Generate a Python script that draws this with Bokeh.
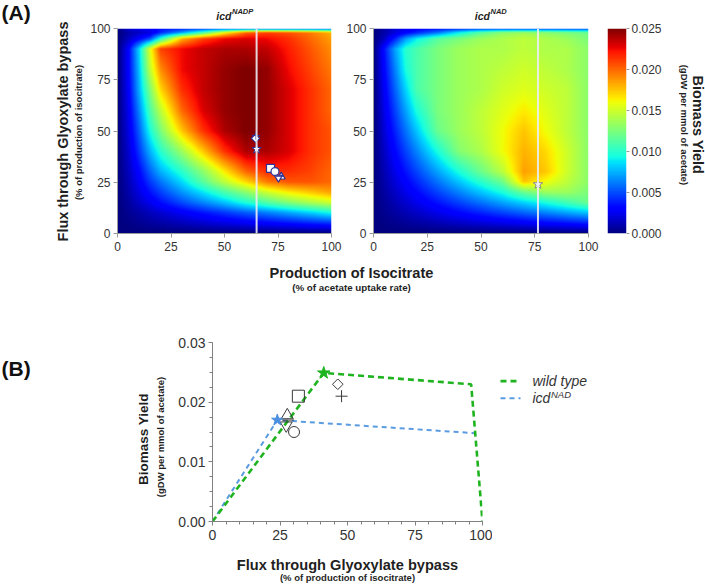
import numpy as np
from bokeh.plotting import figure
from bokeh.models import (Range1d, LinearColorMapper, Label, Span,
                          FixedTicker, NumeralTickFormatter, ColumnDataSource)
from bokeh.layouts import row, column
from bokeh.embed import file_html
from bokeh.resources import INLINE

FONT = "Liberation Sans"
TXT = "#1f1f1f"

# ---------------- data ----------------
grid_isocitrate = [0, 5, 10, 15, 20, 30, 40, 50, 60, 70, 80, 90, 100]
grid_glyoxylate = [0, 5, 10, 15, 20, 25, 30, 40, 50, 60, 70, 80, 90, 95, 98, 100]

# biomass yield in 1e-3 gDW per mmol of acetate; one row per grid_glyoxylate value
yield_nadp_milli = [
    [0, 0.0, 0.0, 0.0, 0.0, 0.0, 0.0, 0.0, 0.0, 0.0, 0.0, 0.0, 0.0],
    [0, 0.2, 0.45, 0.7, 0.9, 1.35, 1.8, 2.25, 2.7, 3.15, 3.6, 4.05, 4.5],
    [0, 0.45, 0.9, 1.35, 1.8, 2.7, 3.6, 4.5, 5.4, 6.3, 7.3, 8.3, 9.5],
    [0, 0.7, 1.6, 2.5, 3.4, 5.0, 6.5, 8.0, 9.8, 11.3, 12.8, 14.0, 15.0],
    [0, 1.0, 2.2, 3.5, 4.7, 6.8, 8.8, 11.0, 13.0, 15.0, 16.5, 17.5, 18.5],
    [0, 1.2, 2.7, 4.5, 6.0, 8.5, 11.5, 14.5, 17.0, 19.5, 20.5, 20.5, 20.0],
    [0, 1.4, 3.2, 5.5, 7.5, 10.0, 13.0, 16.5, 20.0, 21.5, 21.5, 21.0, 20.0],
    [0, 1.8, 4.5, 7.5, 10.0, 13.5, 17.5, 21.5, 24.0, 24.0, 23.0, 21.5, 20.5],
    [0, 2.2, 5.5, 9.5, 12.5, 17.5, 21.5, 24.0, 25.0, 24.5, 23.0, 21.5, 20.5],
    [0, 2.5, 6.5, 11.0, 14.5, 20.0, 23.0, 24.5, 25.0, 24.5, 23.0, 21.5, 20.0],
    [0, 2.8, 7.5, 12.5, 17.0, 21.5, 23.5, 24.5, 25.0, 24.5, 23.0, 21.5, 20.0],
    [0, 3.0, 8.0, 14.5, 19.0, 22.5, 23.5, 24.5, 25.0, 24.5, 22.5, 21.0, 19.5],
    [0, 3.0, 8.5, 15.5, 21.0, 22.5, 23.5, 24.0, 24.0, 23.5, 22.0, 20.5, 19.0],
    [0, 1.5, 3.0, 5.0, 10.0, 18.0, 21.0, 22.5, 23.0, 22.5, 21.5, 20.0, 18.5],
    [0, 1.0, 1.5, 2.0, 4.0, 7.0, 11.0, 16.0, 20.0, 21.0, 20.5, 19.5, 18.0],
    [0, 2.0, 2.5, 3.0, 3.5, 4.0, 4.5, 5.0, 5.0, 5.0, 5.0, 5.0, 5.0],
]
yield_nad_milli = [
    [0, 0.0, 0.0, 0.0, 0.0, 0.0, 0.0, 0.0, 0.0, 0.0, 0.0, 0.0, 0.0],
    [0, 0.2, 0.4, 0.6, 0.8, 1.2, 1.6, 2.0, 2.4, 2.8, 3.2, 3.6, 4.0],
    [0, 0.4, 0.8, 1.2, 1.6, 2.4, 3.2, 4.0, 4.8, 5.6, 6.4, 7.2, 8.0],
    [0, 0.6, 1.2, 1.8, 2.4, 3.6, 4.8, 6.0, 7.2, 8.4, 9.6, 10.8, 12.0],
    [0, 0.8, 1.6, 2.4, 3.2, 4.8, 6.4, 8.0, 9.6, 12.0, 13.5, 13.5, 12.5],
    [0, 1.0, 2.0, 3.0, 4.0, 6.0, 8.0, 10.0, 12.0, 17.5, 16.0, 14.5, 13.0],
    [0, 1.2, 2.4, 3.6, 4.8, 7.2, 9.6, 12.0, 14.4, 18.5, 17.5, 15.0, 13.0],
    [0, 1.6, 3.2, 4.8, 6.4, 9.6, 12.8, 14.0, 16.0, 18.0, 17.0, 15.0, 13.0],
    [0, 2.0, 4.0, 6.0, 8.0, 12.0, 13.5, 14.5, 16.0, 17.5, 16.0, 14.5, 13.0],
    [0, 2.4, 4.8, 7.2, 9.6, 12.5, 13.5, 14.5, 15.5, 16.5, 15.5, 14.5, 13.0],
    [0, 2.8, 5.6, 8.4, 11.0, 12.5, 13.5, 14.0, 15.0, 15.5, 15.0, 14.5, 13.0],
    [0, 3.2, 6.4, 9.6, 11.0, 12.5, 13.5, 14.0, 14.5, 15.0, 14.5, 14.0, 13.0],
    [0, 3.6, 7.2, 10.0, 11.0, 12.5, 13.5, 14.0, 14.0, 14.5, 14.0, 14.0, 13.0],
    [0, 1.5, 4.0, 7.0, 9.0, 11.5, 12.5, 13.5, 14.0, 14.5, 14.0, 13.5, 12.5],
    [0, 1.0, 2.0, 3.0, 4.0, 6.0, 9.0, 11.5, 13.0, 13.5, 13.0, 12.5, 12.0],
    [0, 1.0, 2.0, 2.5, 3.0, 3.5, 4.0, 4.5, 4.5, 4.5, 4.5, 4.5, 4.5],
]

# optimal operating points (stars)
wt_opt_isocitrate = 65.0
wt_opt_glyoxylate = 41.2
wt_opt_yield = 0.0249
nad_opt_isocitrate = 76.5
nad_opt_glyoxylate = 24.0
nad_opt_yield = 0.0170

# measured strains (open symbols)
strain_marker = ["diamond", "cross", "square", "circle", "triangle", "inverted_triangle", "dash"]
strain_isocitrate = [64.5, 64.7, 71.5, 73.6, 76.5, 75.2, 75.8]
strain_glyoxylate = [46.4, 47.8, 31.8, 30.2, 27.7, 27.3, 28.0]
strain_yield = [0.0230, 0.0210, 0.0210, 0.0150, 0.0178, 0.0161, 0.0170]

# panel B curves
wt_curve_glyoxylate = [0, 41.2, 95.8, 100]
wt_curve_yield = [0, 0.0249, 0.0230, 0]
nad_curve_glyoxylate = [0, 24.0, 97.3]
nad_curve_yield = [0, 0.0170, 0.0148]

pct_ticks = [0, 25, 50, 75, 100]
cbar_ticks = [0, 0.005, 0.010, 0.015, 0.020, 0.025]
yield_ticks = [0, 0.01, 0.02, 0.03]

GREEN = "#1fb41f"
BLUE = "#5b9be0"

# ---------------- helpers ----------------
def jet(n=256):
    t = np.linspace(0, 1, n)
    r = np.interp(t, [0, 0.35, 0.66, 0.89, 1], [0, 0, 1, 1, 0.5])
    g = np.interp(t, [0, 0.125, 0.375, 0.64, 0.91, 1], [0, 0, 1, 1, 0, 0])
    b = np.interp(t, [0, 0.11, 0.34, 0.65, 1], [0.5, 1, 1, 0, 0])
    return ["#%02x%02x%02x" % (int(round(R * 255)), int(round(G * 255)), int(round(B * 255)))
            for R, G, B in zip(r, g, b)]


mapper = LinearColorMapper(palette=jet(), low=0.0, high=0.025)


def smooth(values_milli, nx=428, ny=410):
    v = np.asarray(values_milli, dtype=float) * 1e-3
    xs = np.linspace(0, 100, nx)
    ys = np.linspace(0, 100, ny)
    rows = np.array([np.interp(xs, grid_isocitrate, r) for r in v])
    return np.array([np.interp(ys, grid_glyoxylate, rows[:, j]) for j in range(nx)]).T


def make_fig(w, h, l, r, t, b, xr, yr, **kw):
    p = figure(width=w, height=h, x_range=xr, y_range=yr, output_backend="svg",
               toolbar_location=None, title=None, min_border_left=l, min_border_right=r,
               min_border_top=t, min_border_bottom=b, **kw)
    p.grid.visible = False
    p.outline_line_color = None
    p.background_fill_color = "white"
    p.border_fill_color = "white"
    return p


def text_fig(x0, y0, w, h):
    """a blank panel whose ranges are page pixels (y down), used to hold texts"""
    return make_fig(w, h, 0, 0, 0, 0, Range1d(x0, x0 + w), Range1d(y0 + h, y0),
                    x_axis_location=None, y_axis_location=None)


def style_axis(ax, size, line="#9a9a9a", standoff=4):
    ax.major_label_text_font = FONT
    ax.major_label_text_font_size = size
    ax.major_label_text_color = "#333333"
    ax.axis_line_color = line
    ax.major_tick_line_color = line
    ax.minor_tick_line_color = line
    ax.major_tick_in = 0
    ax.major_tick_out = 4
    ax.minor_tick_in = 0
    ax.minor_tick_out = 2
    ax.major_label_standoff = standoff


def lab(p, x, y, text, size, style="normal", align="center", baseline="middle",
        angle=0.0, color=TXT):
    p.add_layout(Label(x=x, y=y, text=text, text_font=FONT, text_font_size=size,
                       text_font_style=style, text_align=align, text_baseline=baseline,
                       angle=angle, text_color=color))


# ---------------- panel A ----------------
TOP_H = 21          # height of the strip that holds the panel titles
A_H = 234           # heat-map figures: 7 + 205 + 22

a_src = ColumnDataSource(dict(
    x=strain_isocitrate, y=strain_glyoxylate,
    marker=["square" if m == "diamond" else m for m in strain_marker],
    angle=[np.pi / 4 if m == "diamond" else 0.0 for m in strain_marker],
    size=[6 if m == "diamond" else 8 for m in strain_marker],
))

heat_panels = []
for grid, opt_x, opt_y, w, fw, star_line in [
        (yield_nadp_milli, wt_opt_isocitrate, wt_opt_glyoxylate, 256, 214, "#2e3192"),
        (yield_nad_milli, nad_opt_isocitrate, nad_opt_glyoxylate, 257, 215, "#8a8a8a")]:
    p = make_fig(w, A_H, 30, w - 30 - fw, 7, 22, Range1d(0, 100), Range1d(0, 100))
    p.image(image=[smooth(grid)], x=0, y=0, dw=100, dh=100, color_mapper=mapper)
    p.add_layout(Span(location=opt_x, dimension="height", line_color="#ececf4",
                      line_width=2, line_alpha=0.9))
    if grid is yield_nadp_milli:
        p.scatter(x="x", y="y", marker="marker", angle="angle", size="size", source=a_src,
                  fill_color="white", line_color="#2e3192", line_width=1.2)
    p.scatter(x=[opt_x], y=[opt_y], marker="star", size=10, fill_color="white",
              line_color=star_line, line_width=1)
    for ax in (p.xaxis[0], p.yaxis[0]):
        style_axis(ax, "12px")
        ax.ticker = FixedTicker(ticks=pct_ticks)
    p.yaxis[0].major_label_standoff = 3
    heat_panels.append(p)
A1, A2 = heat_panels

CB = make_fig(64, A_H, 7, 33, 7, 22, Range1d(0, 1), Range1d(0, 0.025),
              x_axis_location=None, y_axis_location="right")
CB.image(image=[np.linspace(0, 0.025, 256).reshape(256, 1)], x=0, y=0, dw=1, dh=0.025,
         color_mapper=mapper)
style_axis(CB.yaxis[0], "12px", standoff=2)
CB.yaxis[0].axis_line_color = None
CB.yaxis[0].major_tick_out = 3
CB.yaxis[0].ticker = FixedTicker(ticks=cbar_ticks)
CB.yaxis[0].formatter = NumeralTickFormatter(format="0.000")

# text panels around panel A
L1 = text_fig(0, 0, 87, TOP_H + A_H)
lab(L1, 1, 0, "(A)", "21px", "bold", align="left", baseline="top", color="#111111")
lab(L1, 62, 131, "Flux through Glyoxylate bypass", "14.5px", "bold", angle=np.pi / 2)
lab(L1, 77.5, 132, "(% of production of isocitrate)", "9.5px", "bold", angle=np.pi / 2)

TM = text_fig(87, 0, 618, TOP_H)
lab(TM, 231, 15, "icd", "10.5px", "bold italic", align="right")
lab(TM, 231.5, 11, "NADP", "7.5px", "bold italic", align="left")
lab(TM, 489.5, 15, "icd", "10.5px", "bold italic", align="right")
lab(TM, 490, 11, "NAD", "7.5px", "bold italic", align="left")

CBT = text_fig(664, TOP_H, 41, A_H)
lab(CBT, 697, 131, "Biomass Yield", "14.5px", "bold", angle=-np.pi / 2)
lab(CBT, 684, 131, "(gDW per mmol of acetate)", "9.5px", "bold", angle=-np.pi / 2)

# ---------------- panel B ----------------
B = make_fig(322, 250, 42, 10, 42, 29, Range1d(0, 100), Range1d(0, 0.03))
B.line(nad_curve_glyoxylate, nad_curve_yield, line_color=BLUE, line_width=2,
       line_dash="5 4")
B.line(wt_curve_glyoxylate, wt_curve_yield, line_color=GREEN, line_width=2.6,
       line_dash="6 4")
b_src = ColumnDataSource(dict(
    x=strain_glyoxylate, y=strain_yield,
    marker=["square" if m == "diamond" else m for m in strain_marker],
    angle=[np.pi / 4 if m == "diamond" else 0.0 for m in strain_marker],
    size=[7.5 if m == "diamond" else (11 if m == "circle" else 12) for m in strain_marker],
))
B.scatter(x="x", y="y", marker="marker", angle="angle", size="size", source=b_src,
          fill_color=None, line_color="#3a3a3a", line_width=1)
B.scatter(x=[wt_opt_glyoxylate], y=[wt_opt_yield], marker="star", size=13,
          fill_color=GREEN, line_color=GREEN)
B.scatter(x=[nad_opt_glyoxylate], y=[nad_opt_yield], marker="star", size=12,
          fill_color="#4a8fe0", line_color="#4a8fe0")

style_axis(B.xaxis[0], "14px", line="#808080", standoff=4)
style_axis(B.yaxis[0], "14px", line="#808080", standoff=3)
B.xaxis[0].ticker = FixedTicker(ticks=pct_ticks, minor_ticks=list(range(0, 101, 5)))
B.yaxis[0].ticker = FixedTicker(ticks=yield_ticks,
                                minor_ticks=[i * 0.0025 for i in range(13)])
B.yaxis[0].formatter = NumeralTickFormatter(format="0.00")
B.xaxis[0].minor_tick_out = 3
B.yaxis[0].minor_tick_out = 3

TB = text_fig(0, 255, 705, 45)
lab(TB, 351, 272, "Production of Isocitrate", "14.6px", "bold")
lab(TB, 351, 287, "(% of acetate uptake rate)", "9.8px", "bold")

BL = text_fig(0, 300, 170, 250)
lab(BL, 1, 320, "(B)", "21px", "bold", align="left", baseline="top", color="#111111")
lab(BL, 143, 435, "Biomass Yield", "13.5px", "bold", angle=np.pi / 2)
lab(BL, 160, 432, "(gDW per mmol of acetate)", "9.5px", "bold", angle=np.pi / 2)

BR = text_fig(492, 300, 213, 250)
BR.line([500, 520], [354, 354], line_color=GREEN, line_width=2.6, line_dash="6 4")
BR.line([500, 520], [378, 378], line_color=BLUE, line_width=2, line_dash="5 4")
lab(BR, 532, 354, "wild type", "14px", "italic", align="left", color="#333333")
lab(BR, 532, 378, "icd", "14px", "italic", align="left", color="#333333")
lab(BR, 550.5, 372, "NAD", "9.5px", "italic", align="left", color="#333333")

BX = text_fig(0, 550, 705, 34)
lab(BX, 347, 564, "Flux through Glyoxylate bypass", "14.6px", "bold")
lab(BX, 347, 577, "(% of production of isocitrate)", "9.5px", "bold")

top = row(L1, column(TM, row(A1, A2, CB, CBT)))
bottom = column(TB, row(BL, B, BR), BX)
layout = column(top, bottom)
open("out.html", "w").write(file_html(layout, INLINE))
